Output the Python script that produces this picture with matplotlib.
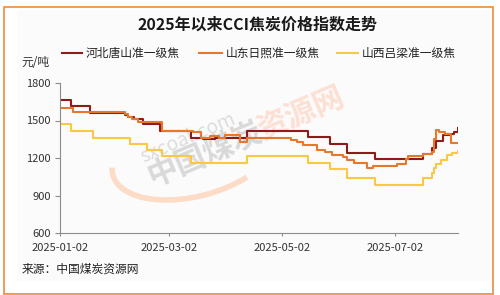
import matplotlib
matplotlib.use('Agg')
import matplotlib.pyplot as plt
from matplotlib.patches import Rectangle, Arc
from matplotlib.lines import Line2D
import pandas as pd

plt.rcParams['font.family'] = ['Noto Sans CJK SC', 'DejaVu Sans']

title = '2025年以来CCI焦炭价格指数走势'
unit = '元/吨'
source = '来源：中国煤炭资源网'
names = ['河北唐山准一级焦', '山东日照准一级焦', '山西吕梁准一级焦']
colors = ['#8e1a1a', '#e7782b', '#f9c845']

# step change dates and prices (yuan/t)
tangshan_dates = ['2025-01-02', '2025-01-08', '2025-01-18', '2025-02-06', '2025-02-08',
                  '2025-02-11', '2025-02-16', '2025-02-25', '2025-03-14', '2025-03-20',
                  '2025-03-27', '2025-04-13', '2025-05-16', '2025-05-28', '2025-06-06',
                  '2025-06-21', '2025-07-17', '2025-07-22', '2025-07-24', '2025-07-28',
                  '2025-08-01', '2025-08-03', '2025-08-05']
tangshan_vals = [1665, 1620, 1560, 1545, 1525,
                 1510, 1470, 1415, 1360, 1350,
                 1360, 1415, 1365, 1315, 1240,
                 1190, 1235, 1280, 1335, 1385,
                 1395, 1405, 1440]

rizhao_dates = ['2025-01-02', '2025-01-09', '2025-02-06', '2025-02-08', '2025-02-10',
                '2025-02-13', '2025-02-26', '2025-03-15', '2025-03-19', '2025-03-24',
                '2025-03-29', '2025-04-01', '2025-04-09', '2025-04-13', '2025-05-07',
                '2025-05-10', '2025-05-13', '2025-05-21', '2025-05-25', '2025-05-29',
                '2025-06-04', '2025-06-06', '2025-06-10', '2025-06-17', '2025-06-20',
                '2025-07-03', '2025-07-08', '2025-07-09', '2025-07-17', '2025-07-22',
                '2025-07-23', '2025-07-24', '2025-07-26', '2025-07-29', '2025-08-01',
                '2025-08-05']
rizhao_vals = [1600, 1570, 1550, 1530, 1512,
               1485, 1420, 1405, 1360, 1380,
               1357, 1382, 1331, 1357, 1345,
               1330, 1305, 1265, 1250, 1225,
               1210, 1185, 1160, 1120, 1135,
               1155, 1195, 1215, 1235, 1250,
               1355, 1425, 1410, 1395, 1320,
               1320]

lvliang_dates = ['2025-01-02', '2025-01-08', '2025-01-20', '2025-02-09', '2025-02-18',
                 '2025-02-26', '2025-03-14', '2025-04-13', '2025-05-16', '2025-05-28',
                 '2025-06-06', '2025-06-21', '2025-07-17', '2025-07-22', '2025-07-23',
                 '2025-07-24', '2025-07-27', '2025-07-30', '2025-08-02', '2025-08-05']
lvliang_vals = [1470, 1415, 1360, 1315, 1265,
                1215, 1160, 1215, 1160, 1110,
                1040, 985, 1040, 1080, 1120,
                1150, 1185, 1225, 1240, 1255]

yticks = [600, 900, 1200, 1500, 1800]
xticks = ['2025-01-02', '2025-03-02', '2025-05-02', '2025-07-02']
x_start, x_end = '2025-01-02', '2025-08-05'

W, H = 500, 295
fig = plt.figure(figsize=(W / 100, H / 100), dpi=100)

# background layer in pixel coords (y measured from the bottom)
bg = fig.add_axes([0, 0, 1, 1], zorder=0)
bg.set_xlim(0, W)
bg.set_ylim(0, H)
bg.axis('off')
bg.add_patch(Rectangle((17, H - 281), 473, 271, facecolor='#fbfbfb', edgecolor='none'))
bg.add_patch(Rectangle((4, 1), 489, 287, facecolor='none', edgecolor='#ee8b3a', lw=1.2))

# watermark
bg.add_patch(Arc((195, H - 153), 170, 86, angle=15, theta1=175, theta2=320,
                 color='#fcdcc6', lw=4))
bg.text(143, H - 163, 'sxcoal.com', rotation=23, rotation_mode='anchor',
        fontsize=14, color='#dddddd', ha='left', va='baseline')
bg.text(152, H - 186, '中国煤炭', rotation=23, rotation_mode='anchor',
        fontsize=22, fontweight='bold', color='#d9d9d9', ha='left', va='baseline')
bg.text(263, H - 139, '资源网', rotation=23, rotation_mode='anchor',
        fontsize=22, fontweight='bold', color='#fde0d4', ha='left', va='baseline')

# texts
bg.text(257, H - 25, title, fontsize=11.5, fontweight='bold', color='#1a1a1a',
        ha='center', va='center')
bg.text(21, H - 62, unit, fontsize=8.5, color='#333333', ha='left', va='center')
bg.text(22, H - 269, source, fontsize=8.5, color='#222222', ha='left', va='center')

# legend
leg_x = [(62, 82), (199, 222), (337, 358)]
for (x0, x1), name, c in zip(leg_x, names, colors):
    bg.add_line(Line2D([x0, x1], [H - 53, H - 53], color=c, lw=1.5))
    bg.text(x1 + 4, H - 53, name, fontsize=8.5, color='#222222', ha='left', va='center')

# main chart
ax = fig.add_axes([60 / W, 1 - 233 / H, (458 - 60) / W, 150 / H], zorder=1)
ax.patch.set_alpha(0)

series = [(tangshan_dates, tangshan_vals), (rizhao_dates, rizhao_vals),
          (lvliang_dates, lvliang_vals)]
for (d, v), c in zip(series, colors):
    ax.plot(pd.to_datetime(d), v, drawstyle='steps-post', color=c, lw=1.5)

ax.set_xlim(pd.Timestamp(x_start), pd.Timestamp(x_end))
ax.set_ylim(yticks[0], yticks[-1])
ax.set_yticks(yticks)
ax.set_xticks(pd.to_datetime(xticks))
ax.set_xticklabels(xticks)

for side in ['top', 'right']:
    ax.spines[side].set_visible(False)
for side in ['left', 'bottom']:
    ax.spines[side].set_color('#8c8c8c')
    ax.spines[side].set_linewidth(0.8)

ax.tick_params(axis='y', length=3.5, width=0.8, color='#8c8c8c', pad=3,
               labelsize=8, labelcolor='#333333')
ax.tick_params(axis='x', length=2.5, width=0.8, color='#8c8c8c', pad=5,
               labelsize=8, labelcolor='#333333')

fig.savefig('out.png', dpi=100)
